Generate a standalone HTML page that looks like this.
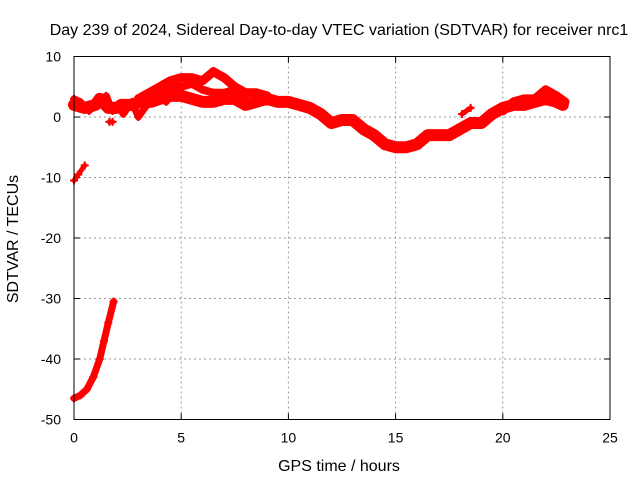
<!DOCTYPE html>
<html><head><meta charset="utf-8"><style>
body{margin:0;background:#fff}
svg text{font-family:"Liberation Sans",sans-serif;font-size:14px;fill:#000}
svg text.big{font-size:16px}
</style></head><body>
<svg id="chart" width="640" height="480">
<text class="big" x="339" y="35" text-anchor="middle">Day 239 of 2024, Sidereal Day-to-day VTEC variation (SDTVAR) for receiver nrc1</text>
<text class="big" x="339" y="471" text-anchor="middle">GPS time / hours</text>
<text class="big" transform="translate(18,239) rotate(-90)" text-anchor="middle">SDTVAR / TECUs</text>
<g id="grid"></g><g id="ticks"></g><g id="marks"></g>
<rect x="74" y="56.5" width="536" height="363" fill="none" stroke="#000" stroke-width="1"/>
</svg>
<script>
const xTicks=[0,5,10,15,20,25];
const yTicks=[10,0,-10,-20,-30,-40,-50];
const trackMainLow=[[0,2],[0.5,1.5],[1,2],[1.2,3],[1.6,1.5],[2,1.5],[2.2,2],[2.8,2],[3.2,3],[3.6,2.5],[4,3],[4.5,3.5],[5,3.5],[5.5,3],[6,2.5],[6.5,2.5],[7,3],[7.5,3],[8,2],[8.5,2.5],[9,3],[9.5,2.5],[10,2.5],[10.5,2],[11,1.5],[11.5,0.5],[12,-1],[12.5,-0.5],[13,-0.5],[13.5,-2],[14,-3],[14.5,-4.5],[15,-5],[15.5,-5],[16,-4.5],[16.5,-3],[17,-3],[17.5,-3],[18,-2],[18.5,-1],[19,-1],[19.5,0.5],[20,1.5],[20.5,2],[21,2],[21.5,2.5],[22,3],[22.5,2.5],[22.8,2]];
const trackUpper=[[3,3],[3.5,4],[4,5],[4.5,6],[5,6.5],[5.5,6.5],[6,6],[6.5,7.5],[7,6.5],[7.5,5],[8,4],[8.5,4],[9,3.5]];
const trackMid=[[4,4],[4.5,5],[5,5],[5.5,5.5],[6,4.5],[6.5,4],[7,4],[7.5,4.5],[8,3]];
const trackEarly=[[0,3],[0.3,2.5],[0.7,1],[1.1,2.5],[1.5,3.5],[1.8,1]];
const trackEarly2=[[2.3,0.5],[2.7,2.5],[3,0],[3.3,1.5],[3.8,3.5],[4.3,2.5]];
const trackLate=[[20,1],[20.5,2.5],[21,3],[21.5,3],[22,4.5],[22.5,3.5],[22.9,2.5]];
const trackBit=[[18.1,0.5],[18.5,1.5]];
const trackDot=[[1.65,-0.8],[1.8,-0.8]];
const trackLowStart=[[0,-10.5],[0.2,-9.5],[0.5,-8]];
const trackSteep=[[0,-46.5],[0.3,-46],[0.6,-45],[0.9,-43],[1.2,-40],[1.4,-37],[1.6,-34],[1.85,-30.5]];
const tracks=[[trackMainLow,12],[trackUpper,9],[trackMid,8],[trackEarly,7],[trackEarly2,7],[trackLate,9],[trackBit,5],[trackDot,5],[trackLowStart,5],[trackSteep,7]];
const X0=74,X1=610,Y0=419.5,Y1=56.5;
const xs=v=>X0+(v-0)/(25-0)*(X1-X0);
const ys=v=>Y0-(v+50)/60*(Y0-Y1);
const NS="http://www.w3.org/2000/svg";
const grid=document.getElementById('grid'),ticks=document.getElementById('ticks'),marks=document.getElementById('marks');
function mk(t,a,p){const e=document.createElementNS(NS,t);for(const k in a)e.setAttribute(k,a[k]);p.appendChild(e);return e;}
xTicks.forEach(v=>{const x=xs(v);
 if(v>0&&v<25){const g=mk('line',{x1:x,x2:x,y1:Y1,y2:Y0,stroke:'#999','stroke-dasharray':'2,3'},grid);
 
 }
 mk('line',{x1:x,x2:x,y1:Y0,y2:Y0-6,stroke:'#000'},ticks);mk('line',{x1:x,x2:x,y1:Y1,y2:Y1+6,stroke:'#000'},ticks);
 const t=mk('text',{x:x,y:Y0+23,'text-anchor':'middle'},ticks);t.textContent=v;
 
 });
yTicks.forEach(v=>{const y=ys(v);
 if(v>-50&&v<10){const g=mk('line',{x1:X0,x2:X1,y1:y,y2:y,stroke:'#999','stroke-dasharray':'2,3'},grid);
 
 }
 mk('line',{x1:X0,x2:X0+6,y1:y,y2:y,stroke:'#000'},ticks);mk('line',{x1:X1,x2:X1-6,y1:y,y2:y,stroke:'#000'},ticks);
 const t=mk('text',{x:X0-13,y:y+5,'text-anchor':'end'},ticks);t.textContent=v;
 
 });
tracks.forEach(([pts,w])=>{
 const p=mk('polyline',{points:pts.map(d=>xs(d[0])+','+ys(d[1])).join(' '),fill:'none',stroke:'#f00','stroke-width':w,'stroke-linejoin':'round','stroke-linecap':'round'},marks);
 
 
 pts.forEach(d=>{const x=xs(d[0]),y=ys(d[1]);
  const m=mk('path',{d:`M${x-4},${y}H${x+4}M${x},${y-4}V${y+4}`,stroke:'#f00','stroke-width':2},marks);
  
  });
});
</script>
</body></html>
